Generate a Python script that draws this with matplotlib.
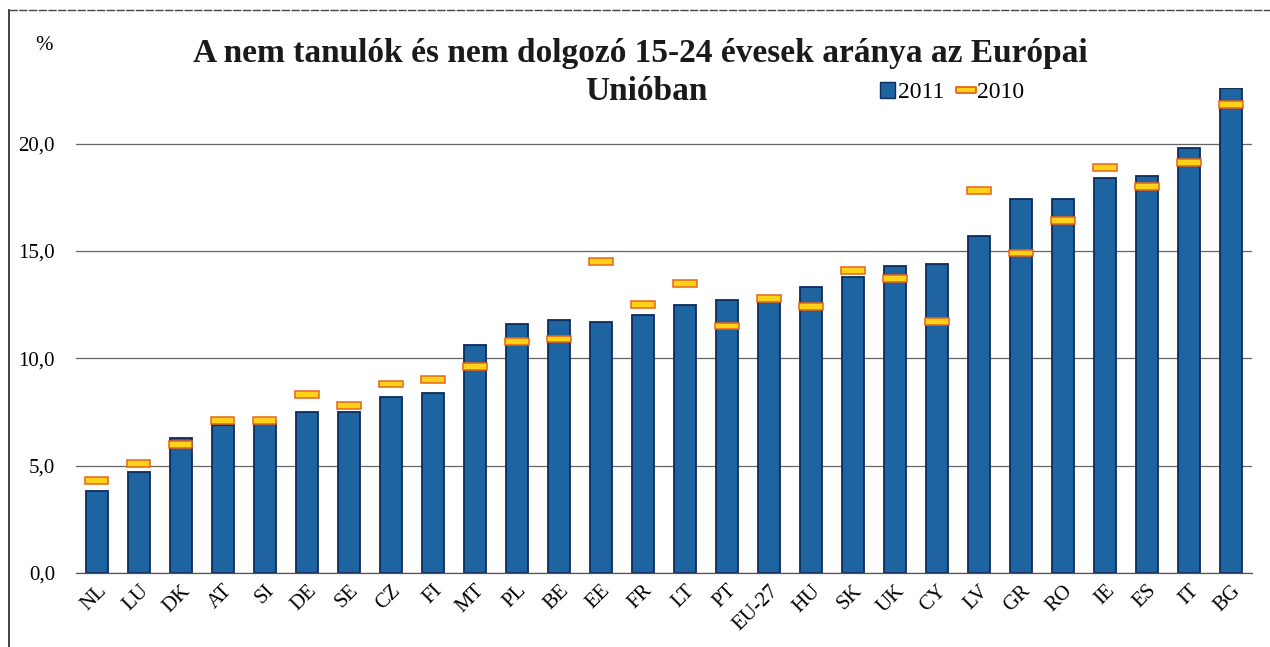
import matplotlib.pyplot as plt
from matplotlib.lines import Line2D
from matplotlib.patches import Patch
from matplotlib.path import Path

# Data (%)
countries = ['NL', 'LU', 'DK', 'AT', 'SI', 'DE', 'SE', 'CZ', 'FI', 'MT', 'PL', 'BE', 'EE', 'FR',
             'LT', 'PT', 'EU-27', 'HU', 'SK', 'UK', 'CY', 'LV', 'GR', 'RO', 'IE', 'ES', 'IT', 'BG']
val_2011 = [3.8, 4.7, 6.3, 6.9, 7.0, 7.5, 7.5, 8.2, 8.4, 10.6, 11.6, 11.8, 11.7, 12.0,
            12.5, 12.7, 12.9, 13.3, 13.8, 14.3, 14.4, 15.7, 17.4, 17.4, 18.4, 18.5, 19.8, 22.6]
val_2010 = [4.3, 5.1, 6.0, 7.1, 7.1, 8.3, 7.8, 8.8, 9.0, 9.6, 10.8, 10.9, 14.5, 12.5,
            13.5, 11.5, 12.8, 12.4, 14.1, 13.7, 11.7, 17.8, 14.9, 16.4, 18.9, 18.0, 19.1, 21.8]

blue = '#1e64a0'
navy = '#0d2b5c'
yellow = '#ffd21a'
orange = '#e8641a'

plt.rcParams['font.family'] = ['Liberation Serif', 'DejaVu Serif']

fig = plt.figure(figsize=(12.7, 6.47), dpi=100)
ax = fig.add_axes([0.0598, 0.1144, 0.926, 0.750])

x = range(len(countries))
ax.bar(x, val_2011, width=0.53, color=blue, edgecolor=navy, linewidth=1.3, zorder=2)

# 2010 values as small flat markers
mh = 0.32
ax.bar(x, [mh] * len(val_2010), bottom=[v - mh / 2 for v in val_2010], width=0.55,
       color=yellow, edgecolor=orange, linewidth=1.1, zorder=3)

ax.set_xlim(-0.5, len(countries) - 0.5)
ax.set_ylim(0, 22.6)
ax.set_yticks([0, 5, 10, 15, 20])
ax.set_yticklabels(['0,0', '5,0', '10,0', '15,0', '20,0'], fontsize=15)
ax.yaxis.grid(True, color='#666666', linewidth=0.9, zorder=0)
ax.set_axisbelow(True)
ax.tick_params(axis='y', length=0, pad=15)
ax.tick_params(axis='x', length=0, pad=6)
ax.set_xticks(list(x))
ax.set_xticklabels(countries, rotation=45, ha='right', rotation_mode='anchor', fontsize=15)
for s in ['top', 'right', 'left']:
    ax.spines[s].set_visible(False)
ax.spines['bottom'].set_color('#555555')
ax.spines['bottom'].set_linewidth(0.9)

# Title, unit and legend
fig.text(0.504, 0.918, 'A nem tanulók és nem dolgozó 15-24 évesek aránya az Európai',
         ha='center', va='center', fontsize=24, fontweight='bold', color='#1a1a1a')
fig.text(0.509, 0.858, 'Unióban', ha='center', va='center', fontsize=24,
         fontweight='bold', color='#1a1a1a')
fig.text(0.028, 0.930, '%', ha='left', va='center', fontsize=15)

flat = Path([(-1, -0.3), (1, -0.3), (1, 0.3), (-1, 0.3), (-1, -0.3)])
handles = [Patch(facecolor=blue, edgecolor=navy),
           Line2D([], [], linestyle='none', marker=flat, markersize=14,
                  markerfacecolor=yellow, markeredgecolor=orange, markeredgewidth=1.3)]
fig.legend(handles, ['2011', '2010'], ncol=2, frameon=False, fontsize=17,
           loc='center left', bbox_to_anchor=(0.676, 0.857),
           handlelength=0.65, handleheight=0.65, handletextpad=0.12, columnspacing=0.6)

# Outer frame of the scanned figure
fig.add_artist(Line2D([0.007, 0.007], [0.0, 0.985], color='#222222', linewidth=1.2))
fig.add_artist(Line2D([0.007, 1.0], [0.985, 0.985], color='#444444', linewidth=1.0,
                      linestyle=(0, (6, 1))))

fig.savefig('out.png', dpi=100)
